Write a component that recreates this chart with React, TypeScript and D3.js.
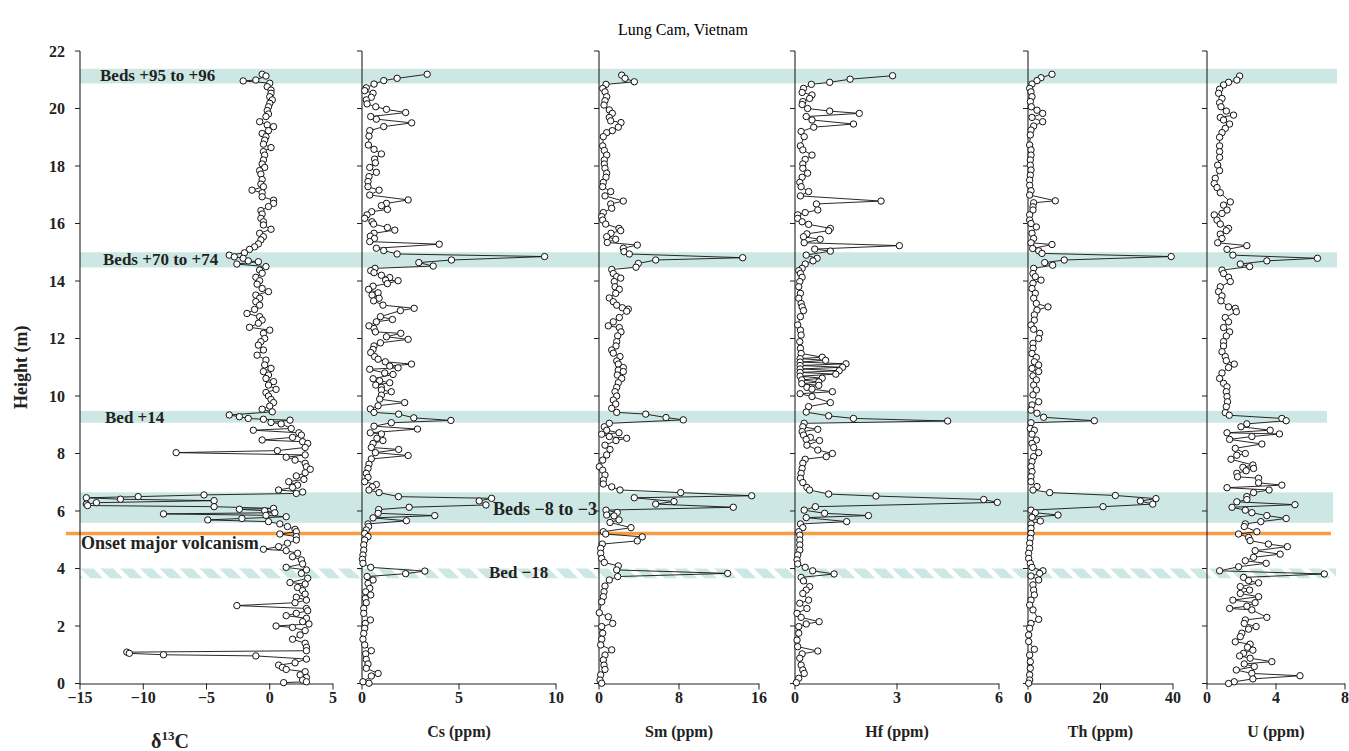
import React from 'react';
import * as d3 from 'd3';

type Pt = [number, number]; // [height (m), value]

// ---------------- DATA ----------------
const d13C: Pt[] = [
[21.19,-0.6],[21.13,-0.3],[20.99,-1.1],[20.96,-2.1],[20.88,0.0],[20.76,-0.2],[20.64,0.1],[20.53,0.1],[20.41,0.0],[20.3,0.2],[20.18,0.0],[20.06,-0.1],[19.93,-0.2],[19.81,-0.1],[19.72,-0.3],[19.54,-0.8],[19.43,-0.2],[19.37,0.3],[19.23,-0.1],[19.13,-0.6],[19.02,-0.3],[18.9,-0.4],[18.76,-0.5],[18.64,0.1],[18.5,-0.5],[18.38,-0.4],[18.21,-0.5],[18.07,-0.6],[17.95,-0.4],[17.84,-0.8],[17.72,-0.7],[17.53,-0.6],[17.37,-0.7],[17.28,-0.5],[17.16,-1.4],[17.07,-0.6],[16.93,-0.6],[16.81,0.3],[16.7,0.3],[16.59,-0.1],[16.45,-0.7],[16.33,-0.6],[16.18,-0.7],[16.06,-0.5],[15.95,-0.5],[15.8,0.1],[15.66,-0.8],[15.54,-0.5],[15.43,-0.7],[15.29,-0.9],[15.19,-1.2],[15.1,-1.6],[14.98,-2.0],[14.9,-3.2],[14.84,-2.8],[14.79,-2.1],[14.7,-1.7],[14.67,-0.9],[14.59,-2.6],[14.5,-0.3],[14.38,-0.8],[14.27,-0.6],[14.13,-1.1],[14.01,-0.8],[13.89,-1.0],[13.74,-0.6],[13.63,-0.1],[13.51,-1.1],[13.4,-0.8],[13.28,-1.1],[13.16,-0.8],[13.01,-1.2],[12.87,-1.8],[12.76,-0.8],[12.64,-0.6],[12.53,-0.9],[12.39,-1.6],[12.29,0.0],[12.18,-0.5],[12.0,-0.4],[11.89,-0.7],[11.77,-0.9],[11.6,-0.5],[11.42,-1.0],[11.25,-0.3],[11.08,-0.4],[10.96,0.1],[10.85,-0.5],[10.73,-0.1],[10.61,-0.3],[10.5,0.3],[10.38,-0.1],[10.23,0.5],[10.12,-0.3],[10.0,-0.1],[9.88,0.1],[9.77,0.3],[9.65,0.0],[9.54,-0.6],[9.45,0.2],[9.34,-3.2],[9.28,-2.4],[9.22,-1.7],[9.19,-0.5],[9.16,1.6],[9.08,0.1],[9.03,0.9],[8.87,1.7],[8.81,-1.3],[8.72,2.3],[8.64,2.5],[8.56,1.8],[8.47,-0.6],[8.41,2.6],[8.35,3.0],[8.21,2.8],[8.1,0.6],[8.03,-7.4],[7.95,2.8],[7.87,1.3],[7.77,2.0],[7.66,2.8],[7.54,2.9],[7.45,3.2],[7.33,2.8],[7.22,2.1],[7.1,2.7],[7.02,1.5],[6.9,2.2],[6.82,1.8],[6.73,0.7],[6.66,2.6],[6.61,2.1],[6.56,-5.2],[6.5,-10.4],[6.46,-14.5],[6.41,-11.8],[6.36,-4.4],[6.29,-13.7],[6.24,-14.5],[6.19,-14.4],[6.15,-4.4],[6.09,0.3],[6.06,-2.4],[6.01,-0.4],[5.94,0.4],[5.9,-8.4],[5.85,-0.3],[5.8,1.3],[5.74,-2.2],[5.69,-4.9],[5.63,-0.1],[5.55,0.8],[5.46,1.4],[5.36,2.0],[5.28,2.1],[5.2,0.8],[5.11,2.1],[4.99,2.1],[4.88,1.4],[4.76,0.7],[4.67,-0.5],[4.62,1.3],[4.53,2.2],[4.41,1.8],[4.3,2.5],[4.16,2.6],[4.04,1.3],[3.95,2.9],[3.83,2.5],[3.66,3.0],[3.51,1.6],[3.46,2.8],[3.34,2.2],[3.23,2.6],[3.11,2.8],[3.0,2.1],[2.9,2.9],[2.81,2.0],[2.71,-2.6],[2.61,2.9],[2.53,3.0],[2.44,2.1],[2.36,1.3],[2.27,2.9],[2.15,2.6],[2.07,3.1],[2.0,0.5],[1.95,1.8],[1.84,2.8],[1.69,2.4],[1.54,1.8],[1.4,2.8],[1.26,2.9],[1.14,2.9],[1.09,-11.3],[1.05,-11.1],[1.0,-8.4],[0.96,-1.1],[0.85,2.9],[0.72,2.0],[0.64,0.7],[0.56,1.0],[0.49,1.3],[0.41,2.8],[0.3,2.4],[0.21,2.9],[0.12,2.6],[0.06,2.9],[0.03,1.1]
];

const csData: Pt[] = [
[21.19,3.36],[21.05,1.81],[20.97,1.12],[20.85,0.62],[20.72,0.22],[20.62,0.14],[20.53,0.57],[20.39,0.48],[20.3,0.22],[20.16,0.26],[20.06,0.71],[19.97,1.26],[19.86,2.25],[19.72,0.45],[19.63,0.74],[19.5,2.56],[19.37,1.12],[19.23,0.4],[19.04,0.36],[18.73,0.33],[18.58,0.62],[18.42,1.0],[18.24,0.65],[18.11,0.69],[17.95,0.4],[17.78,0.74],[17.63,0.36],[17.46,0.31],[17.28,0.31],[17.16,0.88],[16.99,0.4],[16.82,2.38],[16.7,1.26],[16.62,1.0],[16.49,1.31],[16.41,0.5],[16.3,0.26],[16.18,0.14],[16.06,0.52],[15.98,0.6],[15.86,1.31],[15.77,1.69],[15.66,0.62],[15.56,0.43],[15.48,0.64],[15.37,0.4],[15.28,3.98],[15.14,0.74],[15.06,1.12],[14.94,1.81],[14.85,9.41],[14.73,4.61],[14.64,2.93],[14.52,3.67],[14.44,0.67],[14.36,0.45],[14.29,0.62],[14.2,1.0],[14.12,1.43],[14.03,1.22],[14.01,1.86],[13.91,1.31],[13.82,0.57],[13.71,0.34],[13.59,0.83],[13.51,0.52],[13.4,0.88],[13.31,0.6],[13.16,1.08],[13.05,2.69],[12.97,1.98],[12.76,0.95],[12.66,1.57],[12.58,0.74],[12.44,0.36],[12.35,0.62],[12.23,0.69],[12.18,2.0],[12.06,1.26],[11.97,2.38],[11.85,0.95],[11.74,0.62],[11.62,0.57],[11.51,0.45],[11.37,0.65],[11.28,0.83],[11.19,1.2],[11.11,2.55],[11.04,1.43],[10.98,1.86],[10.93,0.4],[10.8,1.17],[10.75,1.6],[10.6,0.57],[10.53,0.91],[10.46,1.43],[10.38,0.71],[10.3,1.0],[10.21,1.0],[10.15,1.51],[10.03,1.0],[9.89,0.91],[9.77,2.2],[9.66,0.83],[9.55,0.43],[9.43,0.62],[9.37,1.89],[9.24,2.67],[9.15,4.58],[9.07,1.51],[8.95,0.62],[8.85,2.86],[8.72,0.43],[8.68,1.0],[8.53,0.77],[8.45,1.08],[8.35,0.57],[8.21,0.48],[8.14,1.89],[8.03,0.69],[7.93,2.38],[7.81,0.48],[7.63,0.36],[7.48,0.31],[7.31,0.22],[7.17,0.31],[7.02,0.14],[6.92,0.74],[6.84,0.53],[6.73,0.36],[6.64,0.88],[6.5,1.88],[6.44,6.68],[6.35,6.04],[6.21,6.39],[6.13,2.43],[6.05,0.86],[5.92,0.83],[5.84,3.75],[5.76,0.57],[5.66,2.29],[5.55,0.31],[5.46,0.34],[5.34,0.22],[5.22,0.14],[5.11,0.31],[4.99,0.14],[4.82,0.09],[4.64,0.09],[4.47,0.05],[4.32,0.02],[4.18,0.05],[4.04,0.45],[3.91,3.24],[3.82,2.25],[3.72,0.26],[3.6,0.57],[3.48,0.31],[3.31,0.4],[3.19,0.19],[3.08,0.45],[2.96,0.17],[2.81,0.22],[2.61,0.09],[2.44,0.09],[2.21,0.43],[2.09,0.17],[1.92,0.14],[1.74,0.09],[1.54,0.05],[1.34,0.14],[1.14,0.48],[1.03,0.19],[0.84,0.22],[0.68,0.31],[0.53,0.22],[0.35,0.83],[0.26,0.48],[0.06,0.05],[0.01,0.36]
];

const smData: Pt[] = [
[21.16,2.27],[21.05,2.6],[20.93,3.53],[20.84,0.7],[20.7,0.37],[20.58,0.6],[20.41,0.77],[20.27,0.6],[20.12,0.5],[19.95,1.03],[19.83,1.33],[19.69,1.03],[19.57,1.17],[19.51,2.2],[19.35,1.93],[19.23,1.33],[19.16,0.77],[19.02,0.43],[18.7,0.37],[18.54,0.53],[18.38,0.77],[18.21,0.53],[18.07,0.53],[17.92,0.6],[17.75,0.77],[17.61,0.7],[17.43,0.43],[17.28,0.37],[17.11,1.17],[16.96,0.6],[16.78,2.43],[16.68,1.17],[16.53,1.27],[16.38,0.43],[16.24,0.27],[16.12,0.37],[15.98,0.67],[15.83,2.0],[15.75,2.17],[15.66,1.2],[15.54,0.77],[15.45,1.67],[15.34,0.83],[15.25,3.83],[15.14,2.43],[15.02,2.5],[14.94,3.03],[14.81,14.37],[14.73,5.67],[14.61,3.93],[14.48,3.7],[14.4,1.27],[14.26,1.43],[14.15,1.77],[14.1,2.17],[13.98,1.53],[13.8,1.6],[13.71,2.03],[13.57,1.67],[13.41,1.03],[13.28,1.43],[13.16,1.77],[13.07,2.33],[13.02,2.93],[12.95,2.77],[12.73,2.03],[12.58,1.43],[12.44,0.93],[12.38,2.03],[12.23,2.2],[12.09,1.87],[11.89,1.77],[11.74,1.7],[11.6,1.27],[11.49,1.43],[11.37,2.1],[11.22,1.77],[11.11,1.93],[10.99,2.43],[10.9,1.93],[10.85,2.43],[10.73,1.83],[10.61,2.27],[10.46,1.93],[10.3,1.77],[10.15,1.6],[10.0,1.77],[9.86,1.43],[9.72,1.67],[9.57,1.27],[9.43,1.77],[9.37,4.67],[9.25,6.7],[9.17,8.43],[9.05,1.03],[8.93,0.53],[8.81,0.77],[8.72,2.0],[8.67,0.27],[8.59,1.03],[8.53,2.77],[8.45,1.7],[8.29,0.6],[8.14,1.1],[7.95,0.77],[7.77,0.37],[7.54,0.03],[7.42,0.37],[7.25,0.6],[7.08,0.43],[6.94,0.43],[6.84,1.27],[6.73,2.1],[6.64,8.17],[6.53,15.27],[6.46,3.53],[6.33,7.5],[6.24,5.67],[6.13,13.43],[6.03,0.7],[5.95,1.83],[5.86,0.77],[5.83,1.5],[5.69,2.0],[5.6,1.1],[5.42,3.2],[5.28,0.43],[5.2,0.67],[5.1,4.33],[4.96,3.83],[4.85,0.33],[4.7,0.17],[4.53,0.17],[4.35,0.27],[4.21,0.53],[4.09,1.93],[3.95,1.77],[3.83,12.87],[3.72,1.87],[3.6,1.03],[3.39,0.6],[3.19,0.5],[3.02,0.43],[2.84,0.27],[2.46,0.03],[2.32,0.93],[2.09,1.37],[1.98,0.27],[1.75,0.37],[1.54,0.27],[1.34,0.17],[1.17,1.27],[0.99,0.6],[0.82,0.43],[0.64,0.5],[0.49,0.6],[0.3,0.17],[0.12,0.1],[0.01,0.27]
];

const hfData: Pt[] = [
[21.14,2.87],[21.02,1.62],[20.91,1.02],[20.84,0.48],[20.7,0.25],[20.56,0.21],[20.47,0.5],[20.35,0.43],[20.24,0.23],[20.14,0.21],[20.0,0.37],[19.91,1.02],[19.83,1.89],[19.72,0.33],[19.6,0.5],[19.46,1.72],[19.35,0.55],[19.2,0.18],[19.02,0.27],[18.7,0.16],[18.56,0.23],[18.38,0.5],[18.23,0.3],[18.07,0.23],[17.92,0.23],[17.75,0.37],[17.61,0.21],[17.43,0.14],[17.28,0.18],[17.11,0.4],[16.96,0.16],[16.78,2.53],[16.68,0.63],[16.47,0.67],[16.38,0.3],[16.3,0.08],[16.18,0.08],[16.06,0.21],[15.97,0.4],[15.83,1.04],[15.75,0.99],[15.64,0.35],[15.54,0.25],[15.45,0.74],[15.33,0.27],[15.23,3.07],[15.11,0.58],[15.04,1.04],[14.9,0.33],[14.79,0.65],[14.7,0.53],[14.59,0.3],[14.44,0.21],[14.36,0.11],[14.26,0.16],[14.13,0.21],[13.98,0.14],[13.8,0.11],[13.57,0.16],[13.4,0.11],[13.22,0.18],[13.1,0.21],[12.97,0.25],[12.76,0.16],[12.47,0.08],[12.29,0.16],[12.12,0.18],[11.89,0.14],[11.66,0.16],[11.48,0.18],[11.35,0.8],[11.3,0.15],[11.24,0.9],[11.18,0.15],[11.12,1.5],[11.06,0.15],[11.0,1.4],[10.94,0.15],[10.88,1.3],[10.82,0.15],[10.76,1.2],[10.69,0.15],[10.62,0.8],[10.56,0.2],[10.49,0.7],[10.43,0.2],[10.37,0.7],[10.3,0.35],[10.24,0.5],[10.15,1.1],[10.08,0.15],[9.98,0.5],[9.77,1.04],[9.63,0.4],[9.44,0.33],[9.31,0.99],[9.22,1.72],[9.13,4.49],[9.05,0.27],[8.93,0.23],[8.84,0.67],[8.76,0.21],[8.64,0.25],[8.56,0.45],[8.49,0.33],[8.45,0.72],[8.29,0.35],[8.12,0.67],[8.0,1.1],[7.89,0.92],[7.8,0.3],[7.66,0.23],[7.48,0.21],[7.31,0.18],[7.14,0.16],[6.99,0.23],[6.82,0.35],[6.73,0.43],[6.59,0.99],[6.52,2.38],[6.4,5.55],[6.3,5.95],[6.15,0.6],[6.03,0.27],[5.92,0.87],[5.84,2.16],[5.77,0.33],[5.63,1.52],[5.55,0.16],[5.42,0.23],[5.28,0.11],[5.16,0.14],[4.99,0.14],[4.82,0.14],[4.64,0.14],[4.47,0.08],[4.3,0.06],[4.16,0.08],[4.04,0.3],[3.92,0.52],[3.81,1.15],[3.69,0.18],[3.57,0.25],[3.37,0.43],[3.25,0.33],[3.13,0.23],[2.9,0.4],[2.79,0.14],[2.61,0.35],[2.44,0.06],[2.3,0.18],[2.15,0.71],[2.07,0.33],[1.98,0.11],[1.75,0.11],[1.51,0.06],[1.28,0.08],[1.13,0.67],[1.03,0.21],[0.88,0.14],[0.64,0.18],[0.47,0.23],[0.35,0.27],[0.18,0.11],[0.03,0.04]
];

const thData: Pt[] = [
[21.19,6.62],[21.07,3.59],[20.97,2.48],[20.85,1.1],[20.7,0.46],[20.58,0.83],[20.41,1.1],[20.24,0.64],[20.06,0.92],[19.94,2.48],[19.83,4.05],[19.69,1.1],[19.54,4.05],[19.39,1.56],[19.25,0.83],[19.08,0.64],[18.73,0.46],[18.56,0.83],[18.38,0.83],[18.21,0.64],[18.03,0.64],[17.86,0.83],[17.68,0.64],[17.51,0.46],[17.33,0.46],[17.14,0.83],[16.99,0.46],[16.79,7.54],[16.72,1.56],[16.58,1.38],[16.47,1.38],[16.3,0.46],[16.12,0.46],[16.0,0.83],[15.88,2.3],[15.66,1.1],[15.48,1.56],[15.33,0.83],[15.27,6.62],[15.13,1.29],[15.05,2.94],[14.96,3.86],[14.85,39.5],[14.73,10.0],[14.64,4.6],[14.55,6.8],[14.44,1.56],[14.26,1.38],[14.15,2.02],[14.03,3.59],[13.92,1.38],[13.74,1.1],[13.57,2.02],[13.4,1.56],[13.22,2.3],[13.1,5.52],[12.99,2.48],[12.82,1.75],[12.64,1.75],[12.47,0.83],[12.32,1.56],[12.18,3.22],[12.0,2.94],[11.83,1.38],[11.66,1.38],[11.48,1.1],[11.34,2.3],[11.19,1.75],[11.08,2.94],[10.96,1.1],[10.85,2.94],[10.7,1.38],[10.56,2.3],[10.38,1.56],[10.21,2.3],[10.04,1.38],[9.8,2.94],[9.69,1.1],[9.51,0.83],[9.4,2.48],[9.26,4.32],[9.14,18.3],[9.07,0.83],[8.87,0.64],[8.81,1.75],[8.67,1.1],[8.47,2.3],[8.35,1.1],[8.21,1.56],[8.03,2.94],[7.89,1.56],[7.72,1.1],[7.54,0.83],[7.37,1.1],[7.19,0.83],[7.02,0.83],[6.85,2.48],[6.73,1.38],[6.64,5.98],[6.54,24.1],[6.43,35.3],[6.35,31.0],[6.24,34.4],[6.15,20.7],[6.03,0.83],[5.94,2.02],[5.86,8.28],[5.78,1.1],[5.65,3.4],[5.55,0.83],[5.4,0.83],[5.22,0.83],[5.05,0.64],[4.88,0.46],[4.7,0.46],[4.53,0.18],[4.35,0.18],[4.18,0.64],[4.04,1.1],[3.92,4.14],[3.83,3.22],[3.74,0.83],[3.6,2.94],[3.43,1.38],[3.25,1.56],[3.08,1.75],[2.9,0.83],[2.73,0.46],[2.56,1.38],[2.23,2.94],[2.09,0.83],[1.92,0.46],[1.69,0.18],[1.46,0.18],[1.19,1.75],[0.99,0.46],[0.76,0.64],[0.53,0.64],[0.3,0.46],[0.12,0.46],[0.01,0.18]
];

const uData: Pt[] = [
[21.13,1.89],[20.99,1.73],[20.91,1.25],[20.82,0.96],[20.67,0.73],[20.53,0.67],[20.35,0.87],[20.2,0.73],[20.06,0.81],[19.91,1.12],[19.77,1.54],[19.69,0.77],[19.6,0.96],[19.46,1.31],[19.31,1.06],[19.16,0.87],[19.0,0.73],[18.7,0.73],[18.5,0.73],[18.3,0.73],[18.03,0.62],[17.84,0.73],[17.57,0.48],[17.39,0.42],[17.25,0.58],[17.07,0.77],[16.75,1.35],[16.64,0.96],[16.47,1.16],[16.35,0.87],[16.3,0.42],[16.12,0.58],[15.98,0.77],[15.83,1.25],[15.75,1.12],[15.63,0.77],[15.48,0.87],[15.33,0.62],[15.23,2.31],[15.1,1.16],[14.9,1.5],[14.79,6.4],[14.7,3.47],[14.59,1.93],[14.5,2.47],[14.38,0.87],[14.26,0.96],[14.13,1.25],[13.98,1.35],[13.8,0.77],[13.63,0.67],[13.48,0.87],[13.31,0.81],[13.1,1.25],[13.05,1.64],[12.93,1.7],[12.73,1.06],[12.58,1.25],[12.38,0.96],[12.23,1.31],[12.09,1.12],[11.89,0.96],[11.74,0.96],[11.54,0.87],[11.37,1.06],[11.23,1.12],[11.11,1.58],[10.99,1.25],[10.8,0.87],[10.61,0.73],[10.44,0.96],[10.32,1.16],[10.15,1.12],[9.98,1.16],[9.8,1.19],[9.63,1.12],[9.42,1.06],[9.33,1.29],[9.22,4.34],[9.14,4.59],[9.03,2.31],[8.93,1.97],[8.81,3.66],[8.72,1.16],[8.68,4.2],[8.59,2.6],[8.49,1.31],[8.33,3.18],[8.18,1.64],[8.0,2.22],[7.94,1.73],[7.8,1.39],[7.6,2.66],[7.52,2.08],[7.48,2.7],[7.4,2.27],[7.31,1.73],[7.19,1.77],[7.14,2.99],[6.98,2.99],[6.9,4.34],[6.81,1.16],[6.73,3.6],[6.64,2.7],[6.5,2.31],[6.4,2.31],[6.32,1.73],[6.22,5.1],[6.13,1.45],[6.03,2.22],[5.94,2.6],[5.84,3.47],[5.74,4.59],[5.63,3.12],[5.55,2.22],[5.46,2.16],[5.28,2.89],[5.2,1.83],[5.08,2.41],[4.97,2.5],[4.85,3.56],[4.76,4.66],[4.62,2.79],[4.5,4.24],[4.39,2.7],[4.27,2.22],[4.18,3.43],[4.06,1.83],[3.92,0.73],[3.81,6.8],[3.69,2.12],[3.58,2.41],[3.5,2.99],[3.37,1.93],[3.25,2.47],[3.13,1.93],[3.02,2.99],[2.9,1.5],[2.81,2.79],[2.69,2.31],[2.61,1.31],[2.56,2.6],[2.3,3.47],[2.21,2.22],[2.09,2.16],[1.98,2.85],[1.89,2.41],[1.75,2.02],[1.63,1.93],[1.45,1.64],[1.37,2.5],[1.26,2.35],[1.16,2.66],[1.05,2.12],[0.96,1.89],[0.88,2.5],[0.76,3.76],[0.68,2.16],[0.59,2.74],[0.47,1.7],[0.35,2.6],[0.27,5.39],[0.16,2.66],[0.06,1.58],[0.0,1.25]
];

const panelSeries: Pt[][] = [d13C, csData, smData, hfData, thData, uData];
const panelDomains: [number, number][] = [[-15, 5], [0, 10], [0, 16], [0, 6], [0, 40], [0, 8]];
const panelTicks: number[][] = [[-15, -10, -5, 0, 5], [0, 5, 10], [0, 8, 16], [0, 3, 6], [0, 20, 40], [0, 4, 8]];
const panelTitles = ['Cs (ppm)', 'Sm (ppm)', 'Hf (ppm)', 'Th (ppm)', 'U (ppm)'];

const heightTicks = [0, 2, 4, 6, 8, 10, 12, 14, 16, 18, 20, 22];

const bandLabels = ['Beds +95 to +96', 'Beds +70 to +74', 'Bed +14', 'Beds \u22128 to \u22123', 'Bed \u221218'];
const bandLow = [20.87, 14.47, 9.07, 5.59, 3.66];
const bandHigh = [21.38, 15.0, 9.48, 6.65, 4.0];
const onsetHeight = 5.22;
const onsetLabel = 'Onset major volcanism';
const chartTitle = 'Lung Cam, Vietnam';

// ---------------- LAYOUT ----------------
const W = 1349;
const H = 751;
const panelRanges: [number, number][] = [[80, 333], [362, 556], [599, 759], [795, 999], [1028, 1173], [1207, 1345]];
const bandRight = [1337, 1337, 1327, 1333, 1336];
const bandHatched = [false, false, false, false, true];
const bandLabelPos: [number, number][] = [[100, 81], [103, 265], [105, 423], [493, 515], [489, 578]];
const bandLabelSize = [17, 17, 17, 18, 17];
const TEAL = '#cde8e4';
const ORANGE = '#f89c46';
const FONT = "'Liberation Serif', 'Times New Roman', Times, serif";

const yScale = d3.scaleLinear().domain([0, 22]).range([683.5, 51]);

const fmt = (v: number) => (v < 0 ? '\u2212' + Math.abs(v) : String(v));

export default function App() {
  const y0 = yScale(0);
  const y22 = yScale(22);
  return (
    <svg
      width={W}
      height={H}
      style={{ position: 'absolute', left: 0, top: 0, background: '#fff' }}
      fontFamily={FONT}
    >
      <defs>
        <pattern id="hatch" patternUnits="userSpaceOnUse" width={14} height={14} patternTransform="rotate(-45)">
          <rect width={14} height={14} fill={TEAL} />
          <rect width={5} height={14} fill="#ffffff" />
        </pattern>
      </defs>

      {/* title */}
      <text x={683} y={35} textAnchor="middle" fontSize={16}>{chartTitle}</text>

      {/* bands */}
      {bandLabels.map((_, i) => (
        <rect
          key={'b' + i}
          x={80}
          y={yScale(bandHigh[i])}
          width={bandRight[i] - 80}
          height={yScale(bandLow[i]) - yScale(bandHigh[i])}
          fill={bandHatched[i] ? 'url(#hatch)' : TEAL}
        />
      ))}
      <line x1={66} x2={1331} y1={yScale(onsetHeight)} y2={yScale(onsetHeight)} stroke={ORANGE} strokeWidth={3.5} />

      {/* panels */}
      {panelSeries.map((data, pi) => {
        const [r0, r1] = panelRanges[pi];
        const x = d3.scaleLinear().domain(panelDomains[pi]).range([r0, r1]);
        const sorted = [...data].sort((a, b) => b[0] - a[0]);
        const path = d3.line<Pt>().x(d => x(d[1])).y(d => yScale(d[0]))(sorted) || '';
        return (
          <g key={'p' + pi}>
            <line x1={r0} x2={r0} y1={y0 + 1} y2={y22} stroke="#222" strokeWidth={1.1} />
            {heightTicks.map(t => (
              <line key={t} x1={r0 - 5} x2={r0} y1={yScale(t)} y2={yScale(t)} stroke="#222" strokeWidth={1} />
            ))}
            <line x1={r0} x2={r1} y1={y0 + 0.5} y2={y0 + 0.5} stroke="#222" strokeWidth={1.1} />
            {panelTicks[pi].map(t => (
              <g key={t}>
                <line x1={x(t)} x2={x(t)} y1={y0} y2={y0 + 6} stroke="#222" strokeWidth={1} />
                <text x={x(t)} y={703} textAnchor="middle" fontSize={16} fontWeight="bold" fill="#222">{fmt(t)}</text>
              </g>
            ))}
            <path d={path} fill="none" stroke="#111" strokeWidth={0.9} />
            {sorted.map((d, k) => (
              <circle key={k} cx={x(d[1])} cy={yScale(d[0])} r={3.2} fill="#fff" stroke="#111" strokeWidth={1} />
            ))}
            {pi > 0 && (
              <text x={(r0 + r1) / 2} y={737} textAnchor="middle" fontSize={16} fontWeight="bold" fill="#222">
                {panelTitles[pi - 1]}
              </text>
            )}
          </g>
        );
      })}

      {/* height tick labels */}
      {heightTicks.map(t => (
        <text key={'yl' + t} x={65} y={yScale(t) + 5.5} textAnchor="end" fontSize={16} fontWeight="bold" fill="#222">{t}</text>
      ))}
      <text transform={`translate(27,${(y0 + y22) / 2}) rotate(-90)`} textAnchor="middle" fontSize={18} fontWeight="bold" fill="#222">Height (m)</text>

      {/* delta 13C label */}
      <text x={170} y={748} textAnchor="middle" fontSize={20} fontWeight="bold" fill="#222">
        δ<tspan fontSize={13} dy={-8}>13</tspan><tspan dy={8}>C</tspan>
      </text>

      {/* band labels */}
      {bandLabels.map((lab, i) => (
        <text key={'bl' + i} x={bandLabelPos[i][0]} y={bandLabelPos[i][1]} fontSize={bandLabelSize[i]} fontWeight="bold" fill="#222">{lab}</text>
      ))}
      <text x={81} y={549} fontSize={18} fontWeight="bold" fill="#222">{onsetLabel}</text>
    </svg>
  );
}
